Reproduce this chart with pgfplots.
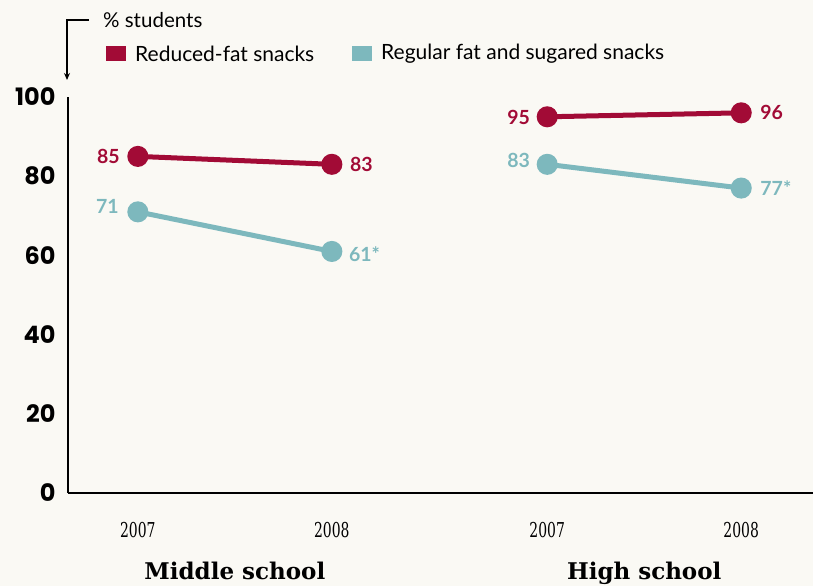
\documentclass[border=0pt]{standalone}
\usepackage{pgfplots}
\pgfplotsset{compat=1.18}
\usetikzlibrary{arrows.meta}
\usepackage{fontspec}
\setmainfont{Lato}
\newfontfamily\tickfont{Poppins}
\newfontfamily\yearfont[FakeStretch=0.68]{DejaVu Serif}
\newfontfamily\groupfont{DejaVu Serif}
\definecolor{bg}{HTML}{FAF9F4}
\definecolor{cred}{HTML}{A20B36}
\definecolor{cteal}{HTML}{7DB8BD}
\begin{document}
\begin{tikzpicture}
\fill[bg] (-68pt,-93pt) rectangle (745pt,493pt);
\begin{axis}[
  name=ax, at={(0,0)}, anchor=south west,
  scale only axis, width=745pt, height=396pt,
  xmin=-0.36, xmax=3.48, ymin=0, ymax=100,
  axis x line=bottom, axis y line=left,
  axis line style={line width=1.8pt, -},
  major tick length=0pt,
  /pgf/number format/assume math mode=true,
  ytick={0,20,40,60,80,100},
  yticklabel style={font=\tickfont\bfseries\fontsize{24}{24}\selectfont, xshift=-9pt},
  xtick={0,1,2.11,3.11},
  xticklabels={},
  clip=false,
]
\addplot[cred, line width=5pt, mark=*, mark size=8pt, mark options={fill=cred, draw=none}] coordinates {(0,85) (1,83)};
\addplot[cteal, line width=5pt, mark=*, mark size=8pt, mark options={fill=cteal, draw=none}] coordinates {(0,71) (1,61)};
\addplot[cred, line width=5pt, mark=*, mark size=8pt, mark options={fill=cred, draw=none}] coordinates {(2.11,95) (3.11,96)};
\addplot[cteal, line width=5pt, mark=*, mark size=8pt, mark options={fill=cteal, draw=none}] coordinates {(2.11,83) (3.11,77)};
\begin{scope}[every node/.style={font=\bfseries\fontsize{19.5}{19.5}\selectfont, inner sep=0pt}]
\node[cred, anchor=east] at ([xshift=-18pt]axis cs:0,85) {85};
\node[cred, anchor=west] at ([xshift=18pt]axis cs:1,83) {83};
\node[cteal, anchor=east] at ([xshift=-19pt, yshift=5pt]axis cs:0,71) {71};
\node[cteal, anchor=west] at ([xshift=17pt, yshift=-3pt]axis cs:1,61) {61*};
\node[cred, anchor=east] at ([xshift=-17pt, yshift=-1pt]axis cs:2.11,95) {95};
\node[cred, anchor=west] at ([xshift=19pt]axis cs:3.11,96) {96};
\node[cteal, anchor=east] at ([xshift=-17pt, yshift=4pt]axis cs:2.11,83) {83};
\node[cteal, anchor=west] at ([xshift=19pt]axis cs:3.11,77) {77*};
\end{scope}
\begin{scope}[every node/.style={font=\yearfont\fontsize{20.5}{20.5}\selectfont, anchor=base, inner sep=0pt}]
\node at ([yshift=-44pt]axis cs:0,0) {2007};
\node at ([yshift=-44pt]axis cs:1,0) {2008};
\node at ([yshift=-44pt]axis cs:2.11,0) {2007};
\node at ([yshift=-44pt]axis cs:3.11,0) {2008};
\end{scope}
\node[font=\groupfont\bfseries\fontsize{23}{23}\selectfont, anchor=base, inner sep=0pt] at ([yshift=-86pt]axis cs:0.5,0) {Middle school};
\node[font=\groupfont\bfseries\fontsize{23}{23}\selectfont, anchor=base, inner sep=0pt] at ([yshift=-86pt]axis cs:2.61,0) {High school};
\end{axis}
% annotations (1pt = 1px of reference; origin at axis south west)
\draw[line width=1.3pt, -{Stealth[length=7pt,width=6pt]}] (21pt,473pt) -- (-1pt,473pt) -- (-1pt,413pt);
\node[anchor=west, inner sep=0pt, font=\fontsize{20.5}{20.5}\selectfont] at (35pt,473pt) {\% students};
\fill[cred] (38pt,432pt) rectangle (58pt,447pt);
\node[anchor=west, inner sep=0pt, font=\fontsize{21}{21}\selectfont] at (67pt,439.5pt) {Reduced-fat snacks};
\fill[cteal] (284pt,432pt) rectangle (304pt,447pt);
\node[anchor=west, inner sep=0pt, font=\fontsize{21}{21}\selectfont] at (313pt,439.5pt) {Regular fat and sugared snacks};
\pgfresetboundingbox
\useasboundingbox (-68pt,-93pt) rectangle (745pt,493pt);
\end{tikzpicture}
\end{document}
